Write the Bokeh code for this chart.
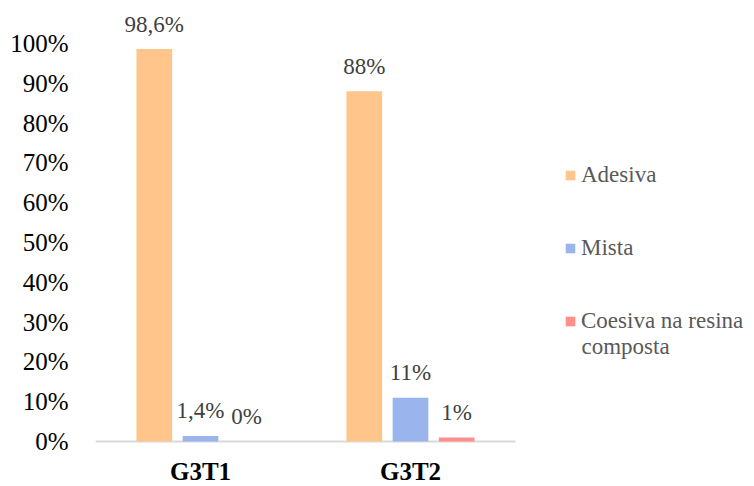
from bokeh.plotting import figure
from bokeh.models import (ColumnDataSource, Range1d, FixedTicker,
                          NumeralTickFormatter, Legend, LegendItem, Label)
from bokeh.core.properties import value
from bokeh.embed import file_html
from bokeh.resources import INLINE

# Failure-mode shares per group
categories = ["G3T1", "G3T2"]
adesiva = [0.986, 0.88]
mista = [0.014, 0.11]
coesiva = [0.0, 0.01]
series_names = ["Adesiva", "Mista", "Coesiva na resina"]
name_tail = "composta"
y_ticks = [0.0, 0.1, 0.2, 0.3, 0.4, 0.5, 0.6, 0.7, 0.8, 0.9, 1.0]

colors = ["#FFC58A", "#9AB5EE", "#FF8F8A"]
offsets = [-0.22, 0.0, 0.22]
BAR_W = 0.17
SERIF = "'Liberation Serif', serif"


def pct_label(v):
    s = f"{v * 100:.1f}".rstrip("0").rstrip(".")
    return s.replace(".", ",") + "%"


centers = [i + 0.5 for i in range(len(categories))]

W, H = 754, 486
LEFT = 95
BASE = 441            # pixel row of the zero line, from the top
frame_w = W - LEFT
px_per_cat = 210
px_per_unit = 398

# the frame fills the canvas right of the y axis; the zero line sits at BASE
p = figure(width=W, height=H, x_axis_location=None,
           x_range=Range1d(0, frame_w / px_per_cat),
           y_range=Range1d(-(H - BASE) / px_per_unit, BASE / px_per_unit),
           output_backend="svg", toolbar_location=None,
           min_border_left=LEFT, min_border_right=0,
           min_border_top=0, min_border_bottom=0)
p.outline_line_color = None
p.grid.grid_line_color = None
p.background_fill_color = "white"
p.border_fill_color = "white"

# light baseline under the two groups
p.segment(x0=[0], x1=[len(categories)], y0=[0], y1=[0],
          line_color="#D9D9D9", line_width=2)

items = []
for vals, name, col, off in zip([adesiva, mista, coesiva], series_names, colors, offsets):
    src = ColumnDataSource(dict(x=[c + off for c in centers], top=vals,
                                lbl=[pct_label(v) for v in vals]))
    r = p.vbar(x="x", top="top", width=BAR_W, source=src,
               fill_color=col, line_color=None)
    p.text(x="x", y="top", text="lbl", source=src,
           text_align="center", text_baseline="middle", y_offset=-25,
           text_font=value(SERIF), text_font_size="23px", text_color="#404040")
    items.append(LegendItem(label=name, renderers=[r]))

# group names under the baseline
p.text(x=centers, y=[0] * len(centers), text=categories,
       text_align="center", text_baseline="bottom", y_offset=H - BASE - 2,
       text_font=value(SERIF), text_font_style="bold",
       text_font_size="25px", text_color="black")

# y axis: percentage ticks, no line
ya = p.yaxis[0]
ya.ticker = FixedTicker(ticks=y_ticks)
ya.formatter = NumeralTickFormatter(format="0%")
ya.axis_line_color = None
ya.major_tick_line_color = None
ya.minor_tick_line_color = None
ya.major_label_text_font = SERIF
ya.major_label_text_font_size = "25px"
ya.major_label_text_color = "black"
ya.major_label_standoff = 21

legend = Legend(items=items, location=(469, 152), orientation="vertical",
                glyph_width=12, glyph_height=12, spacing=47, padding=0, margin=0,
                label_text_font=SERIF, label_text_font_size="23px",
                label_text_color="#595959", label_standoff=5,
                border_line_color=None, background_fill_alpha=0)
p.add_layout(legend)

# second line of the last legend entry
p.add_layout(Label(x=486, y=H - 346, x_units="screen", y_units="screen", text=name_tail,
                   text_font=SERIF, text_font_size="23px", text_color="#595959",
                   text_baseline="middle"))

open("out.html", "w").write(file_html(p, INLINE))
